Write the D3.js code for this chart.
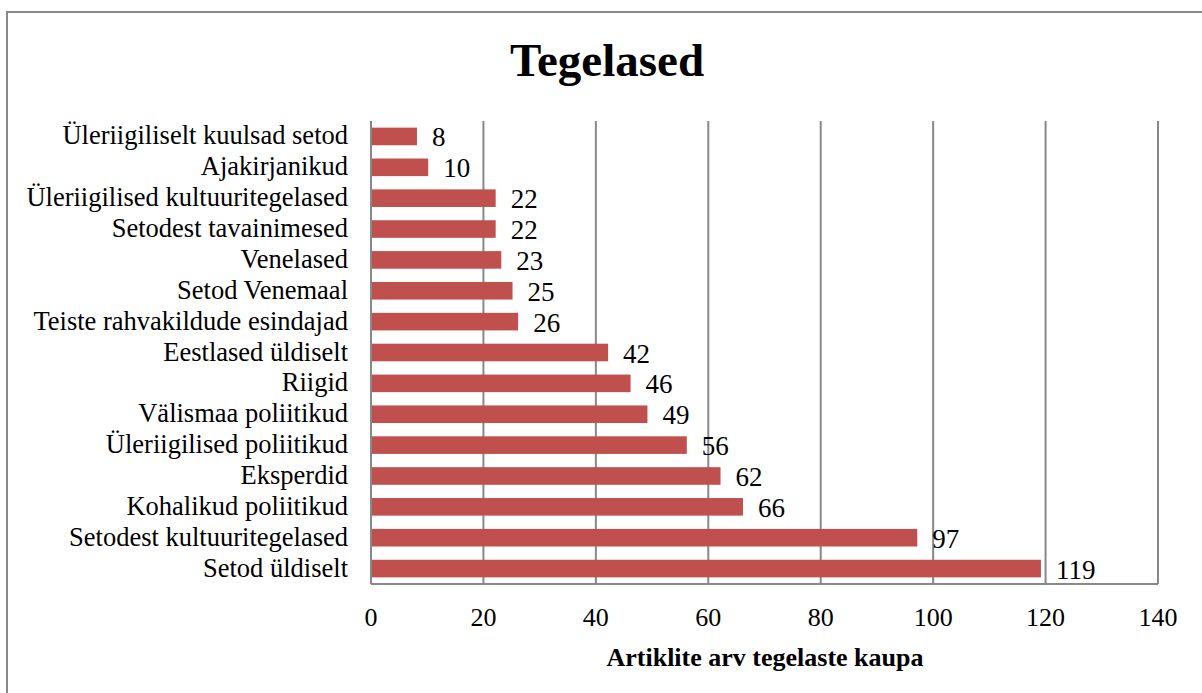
<!DOCTYPE html>
<html lang="et">
<meta charset="utf-8">
<script src="https://cdn.jsdelivr.net/npm/d3@7"></script>
<style>
  body { margin: 0; background: #fff; }
  svg text { font-family: "Liberation Serif", "Times New Roman", serif; fill: #000; }
</style>
<body>
<svg id="chart" width="1202" height="693"></svg>
<script>
// andmed joonise pealt
var categories = ["Üleriigiliselt kuulsad setod", "Ajakirjanikud", "Üleriigilised kultuuritegelased",
  "Setodest tavainimesed", "Venelased", "Setod Venemaal", "Teiste rahvakildude esindajad",
  "Eestlased üldiselt", "Riigid", "Välismaa poliitikud", "Üleriigilised poliitikud", "Eksperdid",
  "Kohalikud poliitikud", "Setodest kultuuritegelased", "Setod üldiselt"];
var values = [8, 10, 22, 22, 23, 25, 26, 42, 46, 49, 56, 62, 66, 97, 119];
var xTicks = [0, 20, 40, 60, 80, 100, 120, 140];

var svg = d3.select("#chart");
var pLeft = 371, pRight = 1158, pTop = 121, pBottom = 584;

// raam (ainult üleval ja vasakul näha)
svg.append("rect")
  .attr("x", 7).attr("y", 12)
  .attr("width", 1260).attr("height", 760)
  .attr("fill", "none").attr("stroke", "#888").attr("stroke-width", 2);

svg.append("text")
  .attr("x", 607).attr("y", 76)
  .attr("text-anchor", "middle")
  .style("font-size", "47px").style("font-weight", "bold")
  .text("Tegelased");

var x = d3.scaleLinear().domain([0, 140]).range([pLeft, pRight]);
var y = d3.scaleBand().domain(categories).range([pTop, pBottom]).paddingInner(0.43).paddingOuter(0.215);

// ruudustik
svg.append("g").selectAll("line")
  .data(xTicks)
  .enter().append("line")
  .attr("x1", d => x(d)).attr("x2", d => x(d))
  .attr("y1", pTop).attr("y2", pBottom)
  .attr("stroke", "#888").attr("stroke-width", 2);

svg.append("line")
  .attr("x1", pLeft).attr("x2", pRight)
  .attr("y1", pBottom).attr("y2", pBottom)
  .attr("stroke", "#888").attr("stroke-width", 2);

// tulbad
svg.append("g").selectAll("rect")
  .data(values)
  .enter().append("rect")
  .attr("x", x(0) + 1)
  .attr("y", (d, i) => y(categories[i]))
  .attr("width", d => x(d) - x(0))
  .attr("height", y.bandwidth())
  .attr("fill", "#c0504d");

// väärtused
svg.append("g").selectAll("text")
  .data(values)
  .enter().append("text")
  .attr("x", d => x(d) + 16)
  .attr("y", (d, i) => y(categories[i]) + y.bandwidth() / 2 + 10)
  .style("font-size", "27px")
  .text(d => d);

// kategooriad
svg.append("g").selectAll("text")
  .data(categories)
  .enter().append("text")
  .attr("x", 348)
  .attr("y", d => y(d) + y.bandwidth() / 2 + 8)
  .attr("text-anchor", "end")
  .style("font-size", "26.5px")
  .text(d => d);

// x-telje sildid
svg.append("g").selectAll("text")
  .data(xTicks)
  .enter().append("text")
  .attr("x", d => x(d))
  .attr("y", 626)
  .attr("text-anchor", "middle")
  .style("font-size", "26px")
  .text(d => d);

svg.append("text")
  .attr("x", 765).attr("y", 666)
  .attr("text-anchor", "middle")
  .style("font-size", "26px").style("font-weight", "bold")
  .text("Artiklite arv tegelaste kaupa");
</script>
</body>
</html>
